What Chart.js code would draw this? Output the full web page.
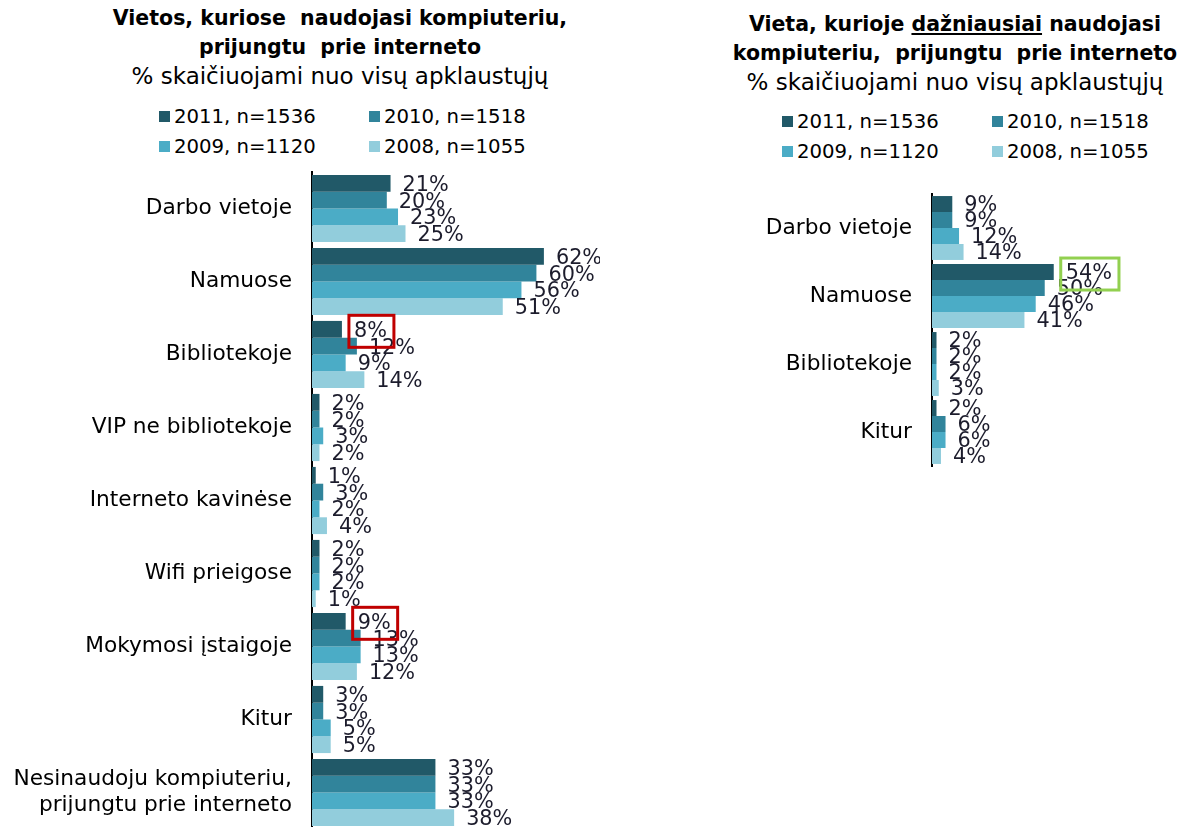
<!DOCTYPE html>
<html>
<head>
<meta charset="utf-8">
<script src="https://cdn.jsdelivr.net/npm/chart.js@4/dist/chart.umd.min.js"></script>
<style>
  html, body { margin: 0; padding: 0; background: #fff; overflow: hidden; }
  body { width: 1180px; height: 827px; position: relative; font-family: "DejaVu Sans", sans-serif; color: #000; }
  .title { position: absolute; text-align: center; font-weight: bold; font-size: 20.5px; line-height: 29px; white-space: pre; }
  .sub { font-weight: normal; font-size: 23px; line-height: 28px; }
  .legend { position: absolute; display: grid; grid-template-columns: 210px 210px; row-gap: 7px; font-size: 19.7px; line-height: 23px; }
  .legend span.sw { display: inline-block; width: 11px; height: 11px; margin-right: 4px; vertical-align: 1px; }
  canvas { position: absolute; }
</style>
</head>
<body>
<div class="title" style="left:100px; top:4px; width:480px;">Vietos, kuriose  naudojasi kompiuteriu,
prijungtu  prie interneto
<span class="sub">% skaičiuojami nuo visų apklaustųjų</span></div>
<div class="legend" id="legendLeft" style="left:159px; top:105px;"></div>

<div class="title" style="left:715px; top:10px; width:480px;">Vieta, kurioje <u>dažniausiai</u> naudojasi
kompiuteriu,  prijungtu  prie interneto
<span class="sub">% skaičiuojami nuo visų apklaustųjų</span></div>
<div class="legend" id="legendRight" style="left:782px; top:110px;"></div>

<canvas id="leftChart" width="600" height="680" style="left:0; top:162px;"></canvas>
<canvas id="rightChart" width="580" height="292" style="left:600px; top:184px;"></canvas>

<script>
// series labels and colours
var seriesLabels = ['2011, n=1536', '2010, n=1518', '2009, n=1120', '2008, n=1055'];
var seriesColors = ['#215968', '#31849B', '#4BACC6', '#92CDDC'];

// left chart: all places
var leftCategories = ['Darbo vietoje', 'Namuose', 'Bibliotekoje', 'VIP ne bibliotekoje', 'Interneto kavinėse',
    'Wifi prieigose', 'Mokymosi įstaigoje', 'Kitur', ['Nesinaudoju kompiuteriu,', 'prijungtu prie interneto']];
var left2011 = [21, 62, 8, 2, 1, 2, 9, 3, 33];
var left2010 = [20, 60, 12, 2, 3, 2, 13, 3, 33];
var left2009 = [23, 56, 9, 3, 2, 2, 13, 5, 33];
var left2008 = [25, 51, 14, 2, 4, 1, 12, 5, 38];

// right chart: most frequent place
var rightCategories = ['Darbo vietoje', 'Namuose', 'Bibliotekoje', 'Kitur'];
var right2011 = [9, 54, 2, 2];
var right2010 = [9, 50, 2, 6];
var right2009 = [12, 46, 2, 6];
var right2008 = [14, 41, 3, 4];

// highlighted labels: [category index, series index]
var leftHighlights = [[2, 0], [6, 0]];
var rightHighlights = [[1, 0]];

function buildLegend(id) {
    var el = document.getElementById(id);
    seriesLabels.forEach(function (lab, i) {
        var d = document.createElement('div');
        d.innerHTML = '<span class="sw" style="background:' + seriesColors[i] + '"></span>' + lab;
        el.appendChild(d);
    });
}
buildLegend('legendLeft');
buildLegend('legendRight');

var valueLabels = {
    id: 'valueLabels',
    afterDatasetsDraw: function (chart, args, opts) {
        var ctx = chart.ctx;
        ctx.save();
        ctx.font = '20.8px "DejaVu Sans"';
        ctx.fillStyle = '#1c1c2c';
        ctx.textBaseline = 'middle';
        var boxes = [];
        chart.data.datasets.forEach(function (ds, di) {
            chart.getDatasetMeta(di).data.forEach(function (bar, i) {
                var txt = ds.data[i] + '%';
                var x = bar.x + 12, y = bar.y + 2;
                ctx.fillText(txt, x, y);
                (opts.highlights || []).forEach(function (h) {
                    if (h[0] === i && h[1] === di) {
                        boxes.push([x - 5, y - 16, ctx.measureText(txt).width + 12, 32]);
                    }
                });
            });
        });
        ctx.strokeStyle = opts.boxColor;
        ctx.lineWidth = 3;
        boxes.forEach(function (b) { ctx.strokeRect(b[0], b[1], b[2], b[3]); });
        ctx.restore();
    }
};

function makeChart(id, labels, series, xMax, axisWidth, catPct, pad, highlights, boxColor) {
    return new Chart(document.getElementById(id), {
        type: 'bar',
        data: {
            labels: labels,
            datasets: series.map(function (d, i) {
                return { label: seriesLabels[i], data: d, backgroundColor: seriesColors[i] };
            })
        },
        options: {
            indexAxis: 'y',
            responsive: false,
            animation: false,
            layout: { padding: pad },
            datasets: { bar: { categoryPercentage: catPct, barPercentage: 1 } },
            plugins: {
                legend: { display: false },
                tooltip: { enabled: false },
                valueLabels: { highlights: highlights, boxColor: boxColor }
            },
            scales: {
                x: { display: false, min: 0, max: xMax },
                y: {
                    grid: { display: false, drawTicks: false },
                    border: { display: true, color: '#000', width: 2 },
                    ticks: { color: '#000', font: { family: 'DejaVu Sans', size: 21.7 }, padding: 20 },
                    afterFit: function (s) {
                        s.width = axisWidth;
                        s.paddingTop = 0;
                        s.paddingBottom = 0;
                    }
                }
            }
        },
        plugins: [valueLabels]
    });
}

makeChart('leftChart', leftCategories, [left2011, left2010, left2009, left2008], 77, 312, 0.92,
    { top: 10, bottom: 13, right: 0 }, leftHighlights, '#C00000');
makeChart('rightChart', rightCategories, [right2011, right2010, right2009, right2008], 110, 332, 0.94,
    { top: 10, bottom: 10, right: 0 }, rightHighlights, '#92D050');
</script>
</body>
</html>
